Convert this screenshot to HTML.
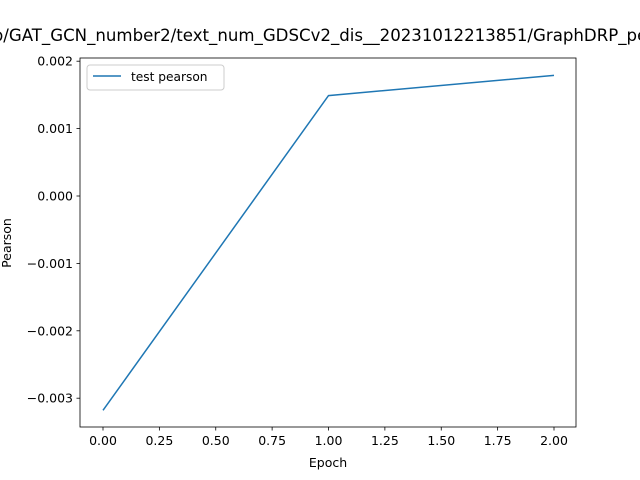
<!DOCTYPE html>
<html><head><meta charset="utf-8"><style>body{margin:0;background:#fff;overflow:hidden}svg{display:block;font-family:"DejaVu Sans","Liberation Sans",sans-serif}</style></head>
<body>
<svg width="640" height="480" xmlns="http://www.w3.org/2000/svg">
<rect width="640" height="480" fill="#fff"/>
<text x="320" y="41" font-size="16.6" text-anchor="middle">p/GAT_GCN_number2/text_num_GDSCv2_dis__20231012213851/GraphDRP_pe</text>
<g id="ticks"></g>
<path id="line" fill="none" stroke="#1f77b4" stroke-width="1.5"/>
<rect x="80" y="58" width="496" height="369" fill="none" stroke="#000" stroke-width="0.8"/>
<text x="328" y="467" font-size="12.5" text-anchor="middle">Epoch</text>
<text transform="translate(11,243) rotate(-90)" font-size="12.5" text-anchor="middle">Pearson</text>
<g>
<rect x="87" y="65" width="137" height="25" rx="3" fill="#fff" stroke="#ccc"/>
<line x1="93" y1="76" x2="121" y2="76" stroke="#1f77b4" stroke-width="1.5"/>
<text x="131" y="81" font-size="12.2">test pearson</text>
</g>
</svg>
<script>
const epochs=[0,1,2];
const pearson=[-0.00318,0.00149,0.00179];
const xTicks=[0,0.25,0.5,0.75,1,1.25,1.5,1.75,2];
const xTickLabels=["0.00","0.25","0.50","0.75","1.00","1.25","1.50","1.75","2.00"];
const yTicks=[-0.003,-0.002,-0.001,0,0.001,0.002];
const yTickLabels=["\u22120.003","\u22120.002","\u22120.001","0.000","0.001","0.002"];
const X=v=>103+v*225.5;
const Y=v=>196-v*67400;
const ns="http://www.w3.org/2000/svg";
const g=document.getElementById('ticks');
function mk(t,a){const e=document.createElementNS(ns,t);for(const k in a)e.setAttribute(k,a[k]);g.appendChild(e);return e;}
xTicks.forEach((v,i)=>{
 const l=mk('line',{x1:X(v),x2:X(v),y1:427,y2:430.5,stroke:'#000','stroke-width':0.8});
 
 
 const t=mk('text',{x:X(v),y:445,'font-size':12.5,'text-anchor':'middle'});t.textContent=xTickLabels[i];
 
 
});
yTicks.forEach((v,i)=>{
 const l=mk('line',{x1:76.5,x2:80,y1:Y(v),y2:Y(v),stroke:'#000','stroke-width':0.8});
 
 
 const t=mk('text',{x:73,y:Y(v)+4.5,'font-size':12.5,'text-anchor':'end'});t.textContent=yTickLabels[i];
 
 
});
document.getElementById('line').setAttribute('d',epochs.map((e,i)=>(i?'L':'M')+X(e)+','+Y(pearson[i])).join(' '));
</script>
</body></html>
